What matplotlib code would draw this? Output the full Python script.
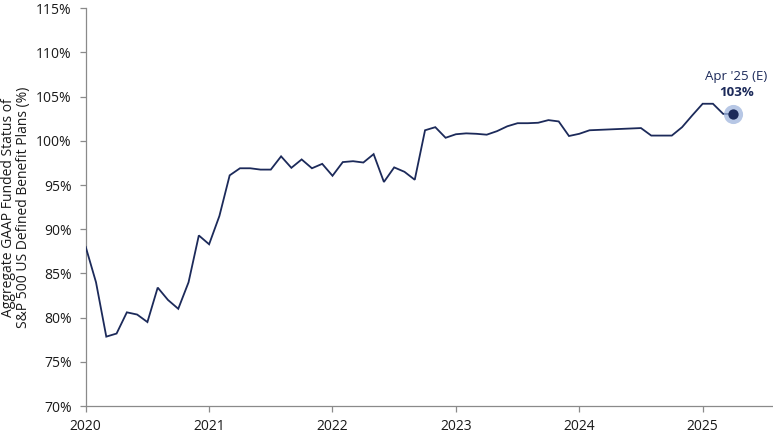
import matplotlib
matplotlib.use("Agg")
import matplotlib.pyplot as plt
import numpy as np

plt.rcParams['font.family'] = ['Open Sans', 'DejaVu Sans']

start_year = 2020
funded_status = [
    88.0, 84.0, 77.85, 78.2, 80.6, 80.35, 79.5, 83.4, 82.0, 81.0, 84.0, 89.3,
    88.3, 91.5, 96.1, 96.9, 96.9, 96.75, 96.75, 98.25, 96.95, 97.9, 96.9, 97.4,
    96.05, 97.6, 97.7, 97.55, 98.5, 95.35, 97.0, 96.5, 95.6, 101.2, 101.55, 100.35,
    100.75, 100.85, 100.8, 100.7, 101.1, 101.65, 102.0, 102.0, 102.05, 102.35, 102.2, 100.55,
    100.8, 101.2, 101.25, 101.3, 101.35, 101.4, 101.45, 100.6, 100.6, 100.6, 101.55, 102.9,
    104.2, 104.2, 103.05, 103.05,
]
year_ticks = [2020, 2021, 2022, 2023, 2024, 2025]
y_ticks = [70, 75, 80, 85, 90, 95, 100, 105, 110, 115]
annot_label = "Apr '25 (E)"
annot_value = "103%"
y_label = "Aggregate GAAP Funded Status of\nS&P 500 US Defined Benefit Plans (%)"

x = start_year + np.arange(len(funded_status)) / 12.0

navy = "#1c2a5a"
fig = plt.figure(figsize=(7.73, 4.37), dpi=100)
ax = fig.add_axes([0.1109, 0.0709, 0.8878, 0.9101])

ax.plot(x, funded_status, color=navy, lw=1.3, solid_joinstyle='miter', zorder=3)
ax.scatter([x[-1]], [funded_status[-1]], s=190, color="#9fb5dd", alpha=0.75, zorder=4, linewidths=0)
ax.scatter([x[-1]], [funded_status[-1]], s=55, color=navy, zorder=5, linewidths=0)

ax.annotate(annot_label, (x[-1], funded_status[-1]), xytext=(2, 27), textcoords='offset points',
            ha='center', va='center', fontsize=9.5, color=navy)
ax.annotate(annot_value, (x[-1], funded_status[-1]), xytext=(2, 15.5), textcoords='offset points',
            ha='center', va='center', fontsize=9.5, color=navy, fontweight='bold')

ax.set_xlim(2020, 2025.562)
ax.set_ylim(70, 115)
ax.set_xticks(year_ticks)
ax.set_xticklabels([str(t) for t in year_ticks])
ax.set_yticks(y_ticks)
ax.set_yticklabels([f"{t}%" for t in y_ticks])

for s in ['top', 'right']:
    ax.spines[s].set_visible(False)
for s in ['left', 'bottom']:
    ax.spines[s].set_color('#8a8a8a')
    ax.spines[s].set_linewidth(0.9)
ax.tick_params(axis='both', colors='#8a8a8a', labelcolor='#1a1a1a', labelsize=10, length=4, width=0.9)
ax.tick_params(axis='x', pad=5)
ax.tick_params(axis='y', pad=6)

ax.set_ylabel(y_label, fontsize=10, color='#1a1a1a', linespacing=1.0, labelpad=4)

fig.savefig("out.png", dpi=100)
